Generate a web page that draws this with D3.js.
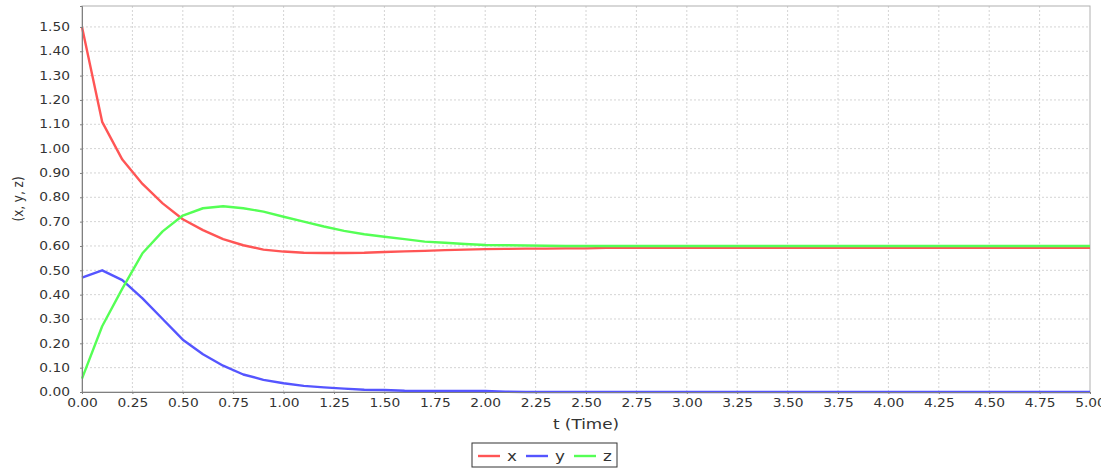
<!DOCTYPE html>
<html>
<head>
<meta charset="utf-8">
<script src="https://cdn.jsdelivr.net/npm/d3@7"></script>
<style>
  body { margin: 0; background: #fff; }
  text { font-family: "DejaVu Sans", sans-serif; fill: #333; }
</style>
</head>
<body>
<div id="wrapper"></div>
<script>
// time steps (t)
const times = [0.0, 0.1, 0.2, 0.3, 0.4, 0.5, 0.6, 0.7, 0.8, 0.9,
  1.0, 1.1, 1.2, 1.3, 1.4, 1.5, 1.6, 1.7, 1.8, 1.9,
  2.0, 2.1, 2.2, 2.3, 2.4, 2.5, 2.6, 2.7, 2.8, 2.9,
  3.0, 3.1, 3.2, 3.3, 3.4, 3.5, 3.6, 3.7, 3.8, 3.9,
  4.0, 4.1, 4.2, 4.3, 4.4, 4.5, 4.6, 4.7, 4.8, 4.9, 5.0];

// series
const xValues = [1.50, 1.11, 0.955, 0.855, 0.775, 0.71, 0.665, 0.628, 0.603, 0.585,
  0.577, 0.572, 0.571, 0.571, 0.572, 0.575, 0.578, 0.58, 0.583, 0.585,
  0.587, 0.588, 0.589, 0.589, 0.59, 0.59, 0.592, 0.592, 0.592, 0.592,
  0.592, 0.592, 0.592, 0.592, 0.592, 0.592, 0.592, 0.592, 0.592, 0.592,
  0.592, 0.592, 0.592, 0.592, 0.592, 0.592, 0.592, 0.592, 0.592, 0.592, 0.592];
const yValues = [0.47, 0.50, 0.46, 0.385, 0.30, 0.215, 0.155, 0.108, 0.072, 0.05,
  0.036, 0.025, 0.019, 0.014, 0.009, 0.008, 0.005, 0.004, 0.004, 0.004,
  0.004, 0.001, 0.0, 0.0, 0.0, 0.0, 0.0, 0.0, 0.0, 0.0,
  0.0, 0.0, 0.0, 0.0, 0.0, 0.0, 0.0, 0.0, 0.0, 0.0,
  0.0, 0.0, 0.0, 0.0, 0.0, 0.0, 0.0, 0.0, 0.0, 0.0, 0.0];
const zValues = [0.055, 0.27, 0.425, 0.57, 0.66, 0.725, 0.755, 0.763, 0.755, 0.741,
  0.72, 0.70, 0.68, 0.662, 0.648, 0.638, 0.628, 0.618, 0.613, 0.608,
  0.604, 0.603, 0.602, 0.601, 0.600, 0.600, 0.600, 0.600, 0.600, 0.600,
  0.600, 0.600, 0.600, 0.600, 0.600, 0.600, 0.600, 0.600, 0.600, 0.600,
  0.600, 0.600, 0.600, 0.600, 0.600, 0.600, 0.600, 0.600, 0.600, 0.600, 0.600];

const seriesNames = ["x", "y", "z"];
const seriesColors = ["#ff5555", "#5555ff", "#55ff55"];

const xTicks = [0, 0.25, 0.5, 0.75, 1, 1.25, 1.5, 1.75, 2, 2.25, 2.5, 2.75,
  3, 3.25, 3.5, 3.75, 4, 4.25, 4.5, 4.75, 5];
const yTicks = [0, 0.1, 0.2, 0.3, 0.4, 0.5, 0.6, 0.7, 0.8, 0.9,
  1.0, 1.1, 1.2, 1.3, 1.4, 1.5];

let dimensions = {
  width: 1101,
  height: 468,
  margin: { top: 6, right: 11, bottom: 76, left: 82 },
};
dimensions.boundedWidth = dimensions.width - dimensions.margin.left - dimensions.margin.right;
dimensions.boundedHeight = dimensions.height - dimensions.margin.top - dimensions.margin.bottom;

const stretch = 1.2; // text in the picture is a bit wide

const svg = d3.select("#wrapper")
  .append("svg")
  .attr("width", dimensions.width)
  .attr("height", dimensions.height);

const bounds = svg.append("g")
  .attr("transform", `translate(${dimensions.margin.left},${dimensions.margin.top})`);

const xScale = d3.scaleLinear().domain([0, 5]).range([0, dimensions.boundedWidth]);
const yScale = d3.scaleLinear().domain([0, 1.586]).range([dimensions.boundedHeight, 0]);

// plot background
bounds.append("rect")
  .attr("width", dimensions.boundedWidth)
  .attr("height", dimensions.boundedHeight)
  .attr("fill", "#fff");

// gridlines
bounds.append("g")
  .selectAll("line")
  .data(xTicks.slice(1, -1))
  .join("line")
  .attr("x1", d => xScale(d)).attr("x2", d => xScale(d))
  .attr("y1", 0).attr("y2", dimensions.boundedHeight)
  .attr("stroke", "#d4d4d4").attr("stroke-dasharray", "2,2");

bounds.append("g")
  .selectAll("line")
  .data(yTicks.slice(1))
  .join("line")
  .attr("x1", 0).attr("x2", dimensions.boundedWidth)
  .attr("y1", d => yScale(d)).attr("y2", d => yScale(d))
  .attr("stroke", "#d4d4d4").attr("stroke-dasharray", "2,2");

// outline
bounds.append("rect")
  .attr("width", dimensions.boundedWidth)
  .attr("height", dimensions.boundedHeight)
  .attr("fill", "none")
  .attr("stroke", "#b0b0b0");

// lines
const allSeries = [xValues, yValues, zValues];
const lineGenerator = d3.line()
  .x((d, i) => xScale(times[i]))
  .y(d => yScale(d));

allSeries.forEach((vals, k) => {
  bounds.append("path")
    .attr("d", lineGenerator(vals))
    .attr("fill", "none")
    .attr("stroke", seriesColors[k])
    .attr("stroke-width", 2.4)
    .attr("stroke-linejoin", "round");
});

// axes
const yAxis = bounds.append("g")
  .call(d3.axisLeft(yScale).tickValues(yTicks).tickFormat(d3.format(".2f")).tickSize(2).tickPadding(10));
yAxis.select(".domain").attr("stroke", "#808080");
yAxis.selectAll(".tick line").attr("stroke", "#808080");
yAxis.selectAll(".tick text")
  .attr("font-size", 11.5)
  .attr("fill", "#333")
  .attr("x", -12 / stretch)
  .attr("transform", `scale(${stretch},1)`);

const xAxis = bounds.append("g")
  .attr("transform", `translate(0,${dimensions.boundedHeight})`)
  .call(d3.axisBottom(xScale).tickValues(xTicks).tickFormat(d3.format(".2f")).tickSize(2).tickPadding(5));
xAxis.select(".domain").attr("stroke", "#808080");
xAxis.selectAll(".tick line").attr("stroke", "#808080");
xAxis.selectAll(".tick text")
  .attr("font-size", 11.5)
  .attr("fill", "#333")
  .attr("transform", `scale(${stretch},1)`);

// axis labels
svg.append("text")
  .attr("transform", `translate(${dimensions.margin.left + dimensions.boundedWidth / 2},429) scale(${stretch},1)`)
  .attr("text-anchor", "middle")
  .attr("font-size", 14)
  .text("t (Time)");

svg.append("text")
  .attr("transform", `translate(23,${dimensions.margin.top + dimensions.boundedHeight / 2}) rotate(-90) scale(1,${stretch})`)
  .attr("text-anchor", "middle")
  .attr("font-size", 12)
  .text("(x, y, z)");

// legend
const legend = svg.append("g").attr("transform", "translate(472,443)");
legend.append("rect")
  .attr("width", 145).attr("height", 24)
  .attr("fill", "#fff").attr("stroke", "#333");
seriesNames.forEach((name, k) => {
  const g = legend.append("g").attr("transform", `translate(${6 + k * 48},0)`);
  g.append("line")
    .attr("x1", 0).attr("x2", 22)
    .attr("y1", 13).attr("y2", 13)
    .attr("stroke", seriesColors[k]).attr("stroke-width", 2.4);
  g.append("text")
    .attr("transform", `translate(29,18) scale(${stretch},1)`)
    .attr("font-size", 14)
    .text(name);
});
</script>
</body>
</html>
